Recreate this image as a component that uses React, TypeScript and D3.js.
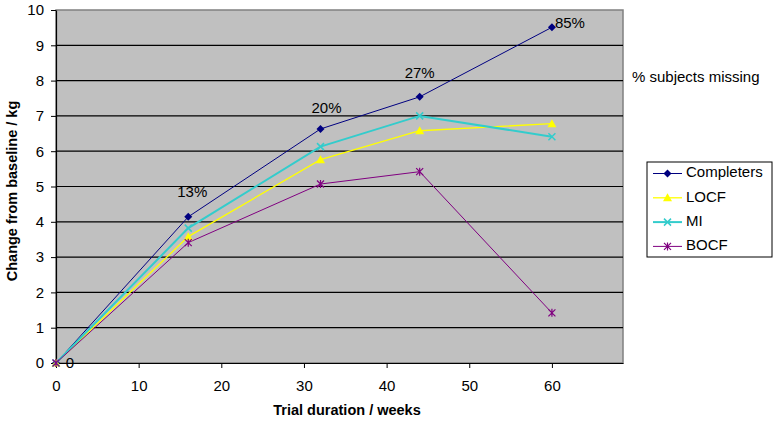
import { useRef, useEffect } from "react";
import * as d3 from "d3";

const weeks = [0, 16, 32, 44, 60];
const completers = [0, 4.14, 6.63, 7.54, 9.51];
const locf = [0, 3.58, 5.76, 6.58, 6.78];
const mi = [0, 3.82, 6.13, 7.0, 6.41];
const bocf = [0, 3.41, 5.07, 5.42, 1.42];
const missingLabels = ["0", "13%", "20%", "27%", "85%"];
const yTicks = d3.range(0, 11);
const xTicks = [0, 10, 20, 30, 40, 50, 60];

type Marker = "diamond" | "triangle" | "cross" | "star";

const SERIES: { name: string; values: number[]; color: string; width: number; marker: Marker }[] = [
  { name: "Completers", values: completers, color: "#000080", width: 1, marker: "diamond" },
  { name: "LOCF", values: locf, color: "#ffff00", width: 1.3, marker: "triangle" },
  { name: "MI", values: mi, color: "#33cccc", width: 2, marker: "cross" },
  { name: "BOCF", values: bocf, color: "#800080", width: 1, marker: "star" },
];

const FONT = "'Liberation Sans', Arial, sans-serif";

function drawMarker(
  g: d3.Selection<SVGGElement, unknown, null, undefined>,
  kind: Marker,
  cx: number,
  cy: number,
  color: string
) {
  if (kind === "diamond") {
    g.append("path")
      .attr("d", `M${cx},${cy - 4}L${cx + 4},${cy}L${cx},${cy + 4}L${cx - 4},${cy}Z`)
      .attr("fill", color);
  } else if (kind === "triangle") {
    g.append("path")
      .attr("d", `M${cx},${cy - 4.5}L${cx + 4.5},${cy + 3.5}L${cx - 4.5},${cy + 3.5}Z`)
      .attr("fill", color);
  } else if (kind === "cross") {
    g.append("path")
      .attr("d", `M${cx - 3.5},${cy - 3.5}L${cx + 3.5},${cy + 3.5}M${cx - 3.5},${cy + 3.5}L${cx + 3.5},${cy - 3.5}`)
      .attr("stroke", color)
      .attr("stroke-width", 1.5);
  } else {
    g.append("path")
      .attr(
        "d",
        `M${cx - 3.5},${cy - 3.5}L${cx + 3.5},${cy + 3.5}M${cx - 3.5},${cy + 3.5}L${cx + 3.5},${cy - 3.5}M${cx},${cy - 4}L${cx},${cy + 4}`
      )
      .attr("stroke", color)
      .attr("stroke-width", 1.2);
  }
}

export default function App() {
  const svgRef = useRef<SVGSVGElement>(null);

  useEffect(() => {
    if (!svgRef.current) return;
    const svg = d3.select(svgRef.current);
    svg.selectAll("*").remove();

    const width = 776;
    const height = 422;
    const margin = { top: 10, right: 153, bottom: 59, left: 56 };
    const w = width - margin.left - margin.right;
    const h = height - margin.top - margin.bottom;

    svg.append("rect").attr("width", width).attr("height", height).attr("fill", "#ffffff");

    const x = d3.scaleLinear().domain([0, 68.6]).range([0, w]);
    const y = d3.scaleLinear().domain([0, 10]).range([h, 0]);

    const g = svg.append("g").attr("transform", `translate(${margin.left},${margin.top})`);

    // Plot area
    g.append("rect")
      .attr("width", w)
      .attr("height", h)
      .attr("fill", "#c0c0c0")
      .attr("stroke", "#808080")
      .attr("stroke-width", 1.5);

    // Grid
    g.append("g")
      .selectAll("line")
      .data(yTicks.filter((t) => t > 0 && t < 10))
      .enter()
      .append("line")
      .attr("x1", 0)
      .attr("x2", w)
      .attr("y1", (d) => y(d))
      .attr("y2", (d) => y(d))
      .attr("stroke", "#000000")
      .attr("stroke-width", 1.2);

    // Axes
    g.append("g")
      .attr("transform", `translate(0,${h})`)
      .call(d3.axisBottom(x).tickValues(xTicks).tickSize(5).tickSizeOuter(0).tickPadding(12))
      .call((s) => s.select(".domain").attr("stroke", "#000").attr("stroke-width", 1.2))
      .call((s) => s.selectAll(".tick line").attr("stroke", "#000"))
      .call((s) =>
        s.selectAll(".tick text").attr("fill", "#000").attr("font-size", "15px").attr("font-family", FONT)
      );

    g.append("g")
      .call(d3.axisLeft(y).tickValues(yTicks).tickSize(5).tickSizeOuter(0).tickPadding(7))
      .call((s) => s.select(".domain").attr("stroke", "#000").attr("stroke-width", 1.2))
      .call((s) => s.selectAll(".tick line").attr("stroke", "#000"))
      .call((s) =>
        s.selectAll(".tick text").attr("fill", "#000").attr("font-size", "15px").attr("font-family", FONT)
      );

    // Series
    const line = d3
      .line<number>()
      .x((_, i) => x(weeks[i]))
      .y((d) => y(d));

    SERIES.forEach((s) => {
      g.append("path")
        .datum(s.values)
        .attr("fill", "none")
        .attr("stroke", s.color)
        .attr("stroke-width", s.width)
        .attr("d", line);
    });
    SERIES.forEach((s) => {
      const mg = g.append("g");
      s.values.forEach((v, i) => drawMarker(mg, s.marker, x(weeks[i]), y(v), s.color));
    });

    // Missing labels
    const labelOffsets = [
      { dx: 14, dy: 1 },
      { dx: 4, dy: -24 },
      { dx: 6, dy: -20 },
      { dx: 0, dy: -23 },
      { dx: 18, dy: -3 },
    ];
    g.append("g")
      .selectAll("text")
      .data(missingLabels)
      .enter()
      .append("text")
      .attr("x", (_, i) => x(weeks[i]) + labelOffsets[i].dx)
      .attr("y", (_, i) => y(completers[i]) + labelOffsets[i].dy)
      .attr("text-anchor", "middle")
      .attr("dominant-baseline", "middle")
      .attr("font-size", "15px")
      .attr("font-family", FONT)
      .attr("fill", "#000")
      .text((d) => d);

    svg.append("text")
      .attr("x", 632)
      .attr("y", 78)
      .attr("dominant-baseline", "middle")
      .attr("font-size", "15px")
      .attr("font-family", FONT)
      .attr("fill", "#000")
      .text("% subjects missing");

    // Axis titles
    svg.append("text")
      .attr("x", 347)
      .attr("y", 415)
      .attr("text-anchor", "middle")
      .attr("font-size", "14.5px")
      .attr("font-weight", "bold")
      .attr("font-family", FONT)
      .attr("fill", "#000")
      .text("Trial duration / weeks");

    svg.append("text")
      .attr("transform", `translate(17,191) rotate(-90)`)
      .attr("text-anchor", "middle")
      .attr("font-size", "14.5px")
      .attr("font-weight", "bold")
      .attr("font-family", FONT)
      .attr("fill", "#000")
      .text("Change from baseline / kg");

    // Legend
    const lg = svg.append("g").attr("transform", "translate(647,162)");
    lg.append("rect")
      .attr("width", 125)
      .attr("height", 95)
      .attr("fill", "#ffffff")
      .attr("stroke", "#000")
      .attr("stroke-width", 1);
    SERIES.forEach((s, i) => {
      const cy = 11.5 + i * 24.3;
      lg.append("line")
        .attr("x1", 6)
        .attr("x2", 35)
        .attr("y1", cy)
        .attr("y2", cy)
        .attr("stroke", s.color)
        .attr("stroke-width", s.width);
      drawMarker(lg as unknown as d3.Selection<SVGGElement, unknown, null, undefined>, s.marker, 20.5, cy, s.color);
      lg.append("text")
        .attr("x", 39)
        .attr("y", cy)
        .attr("dominant-baseline", "middle")
        .attr("font-size", "15px")
        .attr("font-family", FONT)
        .attr("fill", "#000")
        .text(s.name);
    });
  }, []);

  return (
    <div style={{ position: "absolute", left: 0, top: 0 }}>
      <svg ref={svgRef} width={776} height={422} style={{ display: "block" }} />
    </div>
  );
}
